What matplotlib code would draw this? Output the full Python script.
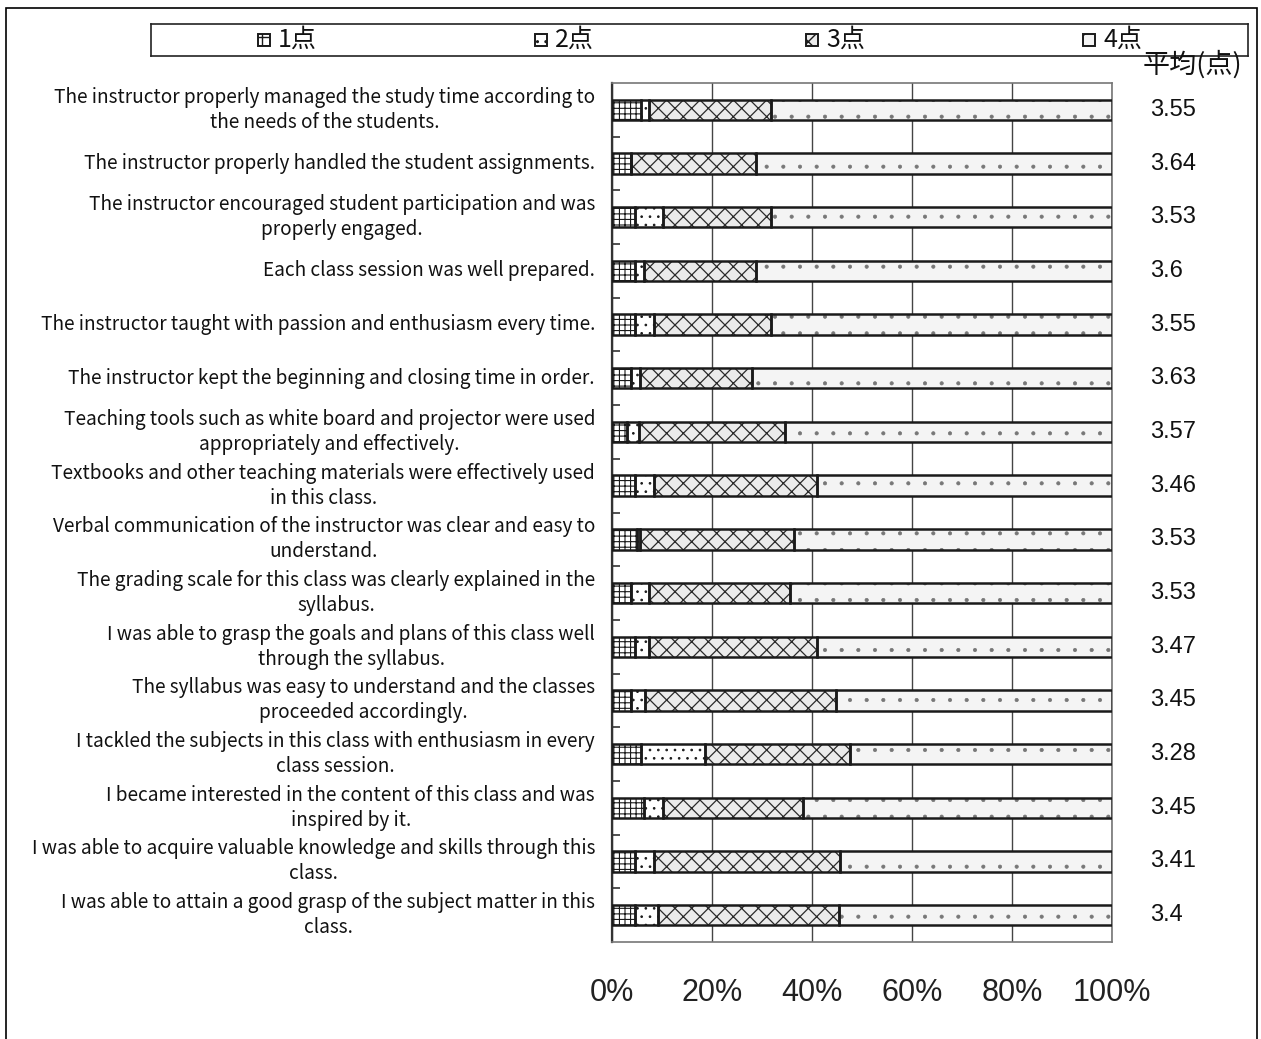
import matplotlib
matplotlib.use("Agg")
import matplotlib.pyplot as plt
from matplotlib.patches import Rectangle
import numpy as np

# Survey items (top to bottom)
items = [
    "The instructor properly managed the study time according to\nthe needs of the students.",
    "The instructor properly handled the student assignments.",
    "The instructor encouraged student participation and was\nproperly engaged.",
    "Each class session was well prepared.",
    "The instructor taught with passion and enthusiasm every time.",
    "The instructor kept the beginning and closing time in order.",
    "Teaching tools such as white board and projector were used\nappropriately and effectively.",
    "Textbooks and other teaching materials were effectively used\nin this class.",
    "Verbal communication of the instructor was clear and easy to\nunderstand.",
    "The grading scale for this class was clearly explained in the\nsyllabus.",
    "I was able to grasp the goals and plans of this class well\nthrough the syllabus.",
    "The syllabus was easy to understand and the classes\nproceeded accordingly.",
    "I tackled the subjects in this class with enthusiasm in every\nclass session.",
    "I became interested in the content of this class and was\ninspired by it.",
    "I was able to acquire valuable knowledge and skills through this\nclass.",
    "I was able to attain a good grasp of the subject matter in this\nclass.",
]

# Share of responses (%) for each score
score1 = [5.7, 3.7, 4.5, 4.6, 4.5, 3.8, 2.9, 4.6, 4.9, 3.8, 4.6, 3.8, 5.7, 6.3, 4.6, 4.6]
score2 = [1.6, 0.0, 5.6, 1.7, 3.8, 1.7, 2.4, 3.7, 0.6, 3.5, 2.7, 2.7, 12.8, 3.8, 3.7, 4.5]
score3 = [24.4, 25.1, 21.6, 22.5, 23.4, 22.4, 29.2, 32.6, 30.8, 28.2, 33.6, 38.2, 29.0, 28.0, 37.3, 36.2]
score4 = [68.3, 71.2, 68.3, 71.2, 68.3, 72.1, 65.5, 59.1, 63.7, 64.5, 59.1, 55.3, 52.5, 61.9, 54.4, 54.7]

# Mean score per item
means = ["3.55", "3.64", "3.53", "3.6", "3.55", "3.63", "3.57", "3.46",
         "3.53", "3.53", "3.47", "3.45", "3.28", "3.45", "3.41", "3.4"]

series_names = ["1点", "2点", "3点", "4点"]
x_ticks = [0, 20, 40, 60, 80, 100]
x_tick_labels = ["0%", "20%", "40%", "60%", "80%", "100%"]
mean_header = "平均(点)"

# Fill style per score: hatch, face colour, hatch colour, hatch line width
hatches = ["+++", "..", "xx", "."]
faces = ["white", "white", "#ebebeb", "#f4f4f4"]
hatch_colors = ["#1a1a1a", "#1a1a1a", "#2a2a2a", "#777777"]
hatch_widths = [0.8, 0.7, 0.9, 0.5]

W, H = 1261, 1039
fig = plt.figure(figsize=(W / 100, H / 100), dpi=100)

label_font = ["Noto Sans CJK JP", "DejaVu Sans"]
num_font = ["Liberation Sans", "Noto Sans CJK JP"]

# Outer frame around the whole chart
fig.add_artist(Rectangle((6 / W, -0.01), (1257 - 6) / W, 1 - 8 / H + 0.01,
                         transform=fig.transFigure, fill=False,
                         edgecolor="black", linewidth=1.2))

ax = fig.add_axes([612 / W, 1 - 942 / H, 500 / W, 859 / H])
y = np.arange(len(items))
data = [score1, score2, score3, score4]
left = np.zeros(len(items))
for vals, hatch, face, hc, hw in zip(data, hatches, faces, hatch_colors, hatch_widths):
    vals = np.array(vals)
    with plt.rc_context({"hatch.linewidth": hw}):
        ax.barh(y, vals, left=left, height=0.38, color=face, edgecolor=hc,
                linewidth=0, hatch=hatch, zorder=3)
    ax.barh(y, vals, left=left, height=0.38, fill=False, edgecolor="#1a1a1a",
            linewidth=1.8, zorder=4)
    left += vals

ax.set_xlim(0, 100)
ax.set_ylim(len(items) - 0.5, -0.5)
ax.set_xticks(x_ticks)
ax.set_xticklabels(x_tick_labels, fontfamily=num_font, fontsize=22)
ax.tick_params(axis="x", length=0, pad=26, colors="#222222")
ax.set_yticks(np.arange(len(items) - 1) + 0.5)
ax.set_yticklabels([])
ax.tick_params(axis="y", direction="in", length=6, width=1.2, colors="#333333")
ax.grid(axis="x", color="#444444", linewidth=1.0, zorder=0)
for s in ax.spines.values():
    s.set_color("#777777")
    s.set_linewidth(1.2)
ax.spines["left"].set_color("#333333")
ax.spines["left"].set_linewidth(1.6)

trans = matplotlib.transforms.blended_transform_factory(ax.transAxes, ax.transData)
for i, (label, m) in enumerate(zip(items, means)):
    ax.text(-0.034, i, label, transform=trans, ha="right", va="center",
            multialignment="center", fontsize=13.7, fontfamily=label_font,
            linespacing=1.25, color="#111111")
    ax.text(1.076, i, m, transform=trans, ha="left", va="center",
            fontsize=17, fontfamily=num_font, color="#111111")

fig.text(1192 / W, 1 - 64 / H, mean_header, ha="center", va="center",
         fontsize=19.5, fontfamily=label_font, color="#111111")

# Legend strip
lax = fig.add_axes([151 / W, 1 - 56 / H, 1097 / W, 32 / H])
lax.set_xlim(0, 1097)
lax.set_ylim(32, 0)
lax.set_xticks([])
lax.set_yticks([])
for s in lax.spines.values():
    s.set_color("#222222")
    s.set_linewidth(1.2)
swatch_x = [107, 384, 655, 932]
for sx, name, hatch, face, hc in zip(swatch_x, series_names, hatches, faces, hatch_colors):
    with plt.rc_context({"hatch.linewidth": 1.0}):
        lax.add_patch(Rectangle((sx, 10), 12, 12, facecolor=face, edgecolor="#1a1a1a",
                                linewidth=1.4, hatch=hatch.replace("+++", "++")))
    lax.text(sx + 20, 16, name, ha="left", va="center", fontsize=18,
             fontfamily=label_font, color="#111111")

fig.savefig("out.png", dpi=100)
